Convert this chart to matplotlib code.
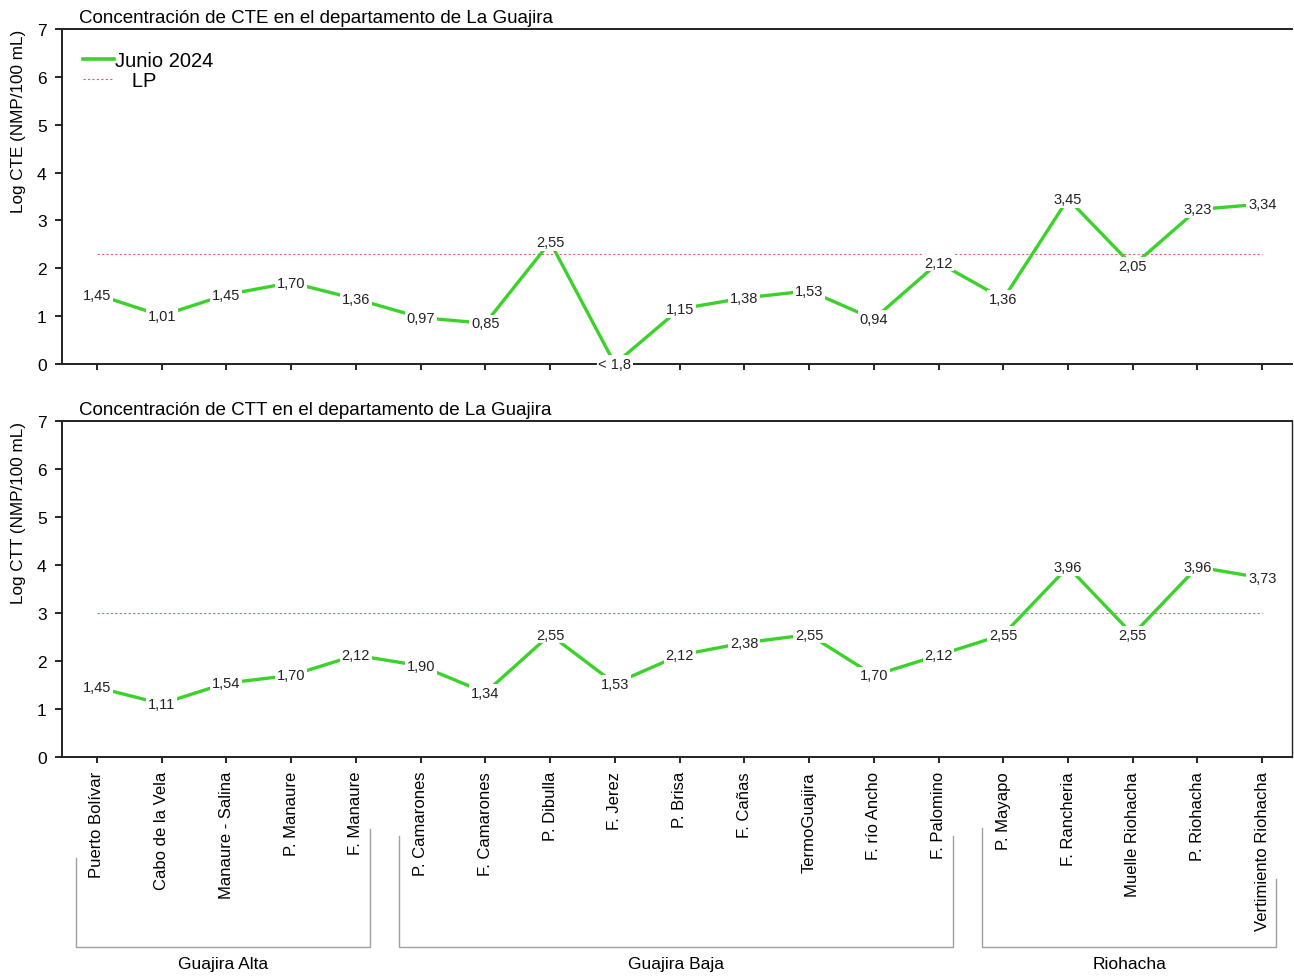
import matplotlib
matplotlib.use("Agg")
import matplotlib.pyplot as plt
from matplotlib.transforms import blended_transform_factory
from matplotlib.lines import Line2D

plt.rcParams['font.family'] = ['Liberation Sans', 'DejaVu Sans']

# ---------------- data ----------------
stations = ["Puerto Bolívar", "Cabo de la Vela", "Manaure - Salina", "P. Manaure",
            "F. Manaure", "P. Camarones", "F. Camarones", "P. Dibulla", "F. Jerez",
            "P. Brisa", "F. Cañas", "TermoGuajira", "F. río Ancho", "F. Palomino",
            "P. Mayapo", "F. Rancheria", "Muelle Riohacha", "P. Riohacha",
            "Vertimiento Riohacha"]

cte_values = [1.45, 1.01, 1.45, 1.70, 1.36, 0.97, 0.85, 2.55, 0.0, 1.15, 1.38, 1.53,
              0.94, 2.12, 1.36, 3.45, 2.05, 3.23, 3.34]
cte_labels = ["1,45", "1,01", "1,45", "1,70", "1,36", "0,97", "0,85", "2,55", "< 1,8",
              "1,15", "1,38", "1,53", "0,94", "2,12", "1,36", "3,45", "2,05", "3,23", "3,34"]

ctt_values = [1.45, 1.11, 1.54, 1.70, 2.12, 1.90, 1.34, 2.55, 1.53, 2.12, 2.38, 2.55,
              1.70, 2.12, 2.55, 3.96, 2.55, 3.96, 3.73]
ctt_labels = ["1,45", "1,11", "1,54", "1,70", "2,12", "1,90", "1,34", "2,55", "1,53",
              "2,12", "2,38", "2,55", "1,70", "2,12", "2,55", "3,96", "2,55", "3,96", "3,73"]

lp_cte = 2.30
lp_ctt = 3.0

groups = ["Guajira Alta", "Guajira Baja", "Riohacha"]
group_sizes = [5, 9, 5]

series_name = "Junio 2024"
lp_name = "LP"

# ---------------- style ----------------
GREEN = "#3cd22c"
RED = "#e06070"
W, H = 1294, 978
fig = plt.figure(figsize=(W / 100, H / 100), dpi=100)

def fy(px):
    return 1 - px / H

def fx(px):
    return px / W

ax1 = fig.add_axes([fx(62), fy(365), fx(1292) - fx(62), fy(30) - fy(365)])
ax2 = fig.add_axes([fx(62), fy(758), fx(1292) - fx(62), fy(422) - fy(758)])

x = list(range(len(stations)))

def draw_panel(ax, vals, labels, lp, title, ylabel, right_spine):
    ax.plot(x, vals, color=GREEN, lw=2.4, zorder=2, solid_capstyle='butt',
            label=series_name)
    ax.plot([x[0], x[-1]], [lp, lp], color=RED, lw=0.8, ls=(0, (2, 2)), zorder=1,
            label=lp_name)
    for xi, v, lab in zip(x, vals, labels):
        ax.text(xi, v, lab, ha='center', va='center', fontsize=10.5, color='#222222',
                zorder=3, bbox=dict(boxstyle='square,pad=0.12', fc='white', ec='none'))
    ax.set_xlim(-0.54, 18.46)
    ax.set_ylim(0, 7)
    ax.set_yticks(range(0, 8))
    ax.set_xticks(x)
    ax.tick_params(axis='y', direction='out', length=5, width=1.2, labelsize=12.5, pad=6)
    ax.tick_params(axis='x', direction='out', length=4, width=1.2)
    for s in ['left', 'bottom', 'top']:
        ax.spines[s].set_linewidth(1.4)
        ax.spines[s].set_color('#222222')
    if right_spine:
        ax.spines['right'].set_linewidth(1.0)
        ax.spines['right'].set_color('#222222')
    else:
        ax.spines['right'].set_visible(False)
    ax.set_ylabel(ylabel, fontsize=12.3, labelpad=8, loc='top')
    ax.text(0.014, 1.01, title, transform=ax.transAxes, fontsize=13.5,
            ha='left', va='bottom')

draw_panel(ax1, cte_values, cte_labels, lp_cte,
           "Concentración de CTE en el departamento de La Guajira",
           "Log CTE (NMP/100 mL)", False)
draw_panel(ax2, ctt_values, ctt_labels, lp_ctt,
           "Concentración de CTT en el departamento de La Guajira",
           "Log CTT (NMP/100 mL)", True)

ax1.set_xticklabels([])
ax2.set_xticklabels(stations, rotation=90, fontsize=12, va='top', ha='center')
ax2.tick_params(axis='x', pad=6)

# legend
handles = [Line2D([], [], color=GREEN, lw=2.6),
           Line2D([], [], color=RED, lw=0.8, ls=(0, (2, 2)))]
leg = ax1.legend(handles, [series_name, "   " + lp_name], loc='upper left',
                 bbox_to_anchor=(0.006, 0.975), frameon=False, fontsize=14.5,
                 handlelength=1.5, handletextpad=0.05, labelspacing=0.05,
                 borderaxespad=0.3)

# group brackets
tr = blended_transform_factory(ax2.transData, fig.transFigure)
bracket_tops = [(859, 830), (837, 837), (829, 880)]
bottom_y = fy(948)
start = 0
for name, n, (tl, tr_) in zip(groups, group_sizes, bracket_tops):
    xl = start - 0.33
    xr = start + n - 1 + 0.22
    ax2.add_line(Line2D([xl, xl, xr, xr], [fy(tl), bottom_y, bottom_y, fy(tr_)],
                        transform=tr, color='#a0a0a0', lw=1.0, clip_on=False))
    ax2.text((xl + xr) / 2, fy(965), name, transform=tr, ha='center', va='center',
             fontsize=12.5)
    start += n

fig.savefig("out.png", dpi=100)
